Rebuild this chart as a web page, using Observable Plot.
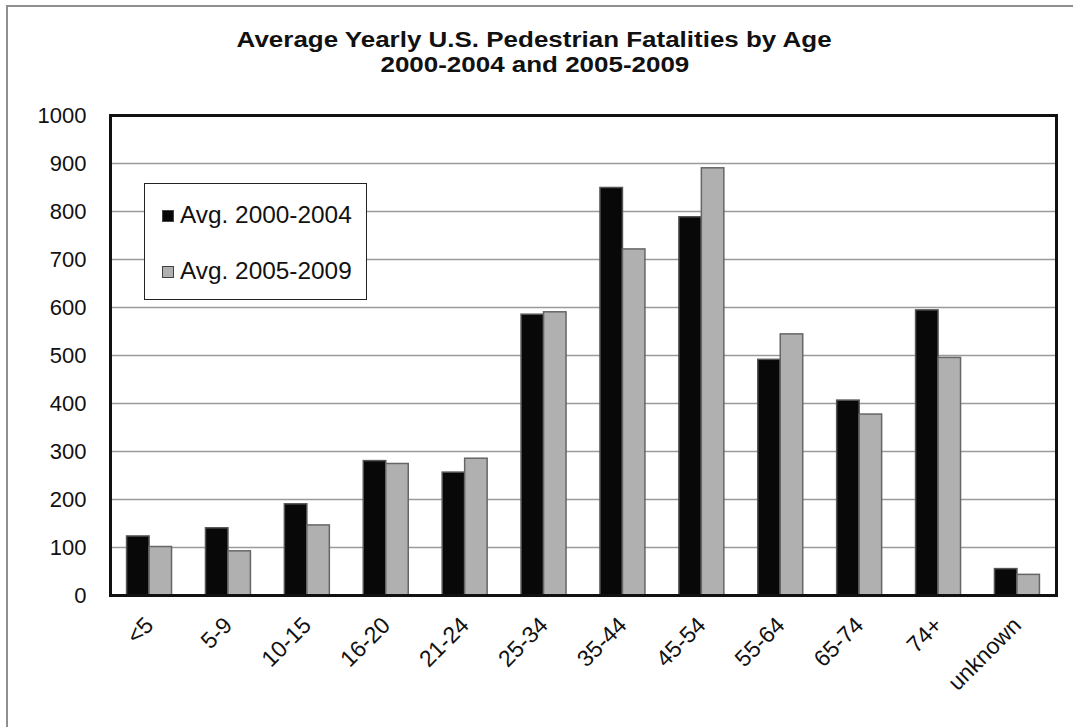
<!DOCTYPE html>
<html><head><meta charset="utf-8">
<script src="https://cdn.jsdelivr.net/npm/d3@7"></script>
<script src="https://cdn.jsdelivr.net/npm/@observablehq/plot@0.6"></script>
<style>
body{margin:0;background:#fff;font-family:"Liberation Sans",Arial,sans-serif;}
#wrap{position:relative;width:1073px;height:727px;overflow:hidden;background:#fff;}
#border{position:absolute;left:6px;top:5px;width:1200px;height:900px;border-left:2px solid #8f8f8f;border-top:2px solid #8f8f8f;z-index:5;pointer-events:none;}
#title{position:absolute;left:-2px;top:27px;width:1073px;text-align:center;font-weight:bold;font-size:22px;line-height:25px;color:#111;}
#title span{display:inline-block;transform:scaleX(1.18);}
#chart{position:absolute;left:0;top:100px;}
#legend{position:absolute;left:144px;top:183px;width:221px;height:115px;border:1px solid #222;background:#fff;}
.item{position:absolute;left:17px;font-size:23px;line-height:26px;color:#111;white-space:nowrap;}
.item span{display:inline-block;transform:scaleX(1.06);transform-origin:left center;}
.item i{display:inline-block;width:10px;height:10px;border:1px solid #444;margin-right:6px;vertical-align:1px;}
</style></head>
<body>
<div id="wrap">
  <div id="title"><span>Average Yearly U.S. Pedestrian Fatalities by Age</span><br><span>2000-2004 and 2005-2009</span></div>
  <div id="chart"></div>
  <div id="legend">
    <div class="item" style="top:18px"><i style="background:#080808"></i><span>Avg. 2000-2004</span></div>
    <div class="item" style="top:74px"><i style="background:#b0b0b0"></i><span>Avg. 2005-2009</span></div>
  </div>
  <div id="border"></div>
</div>
<script>
const ages = ["<5","5-9","10-15","16-20","21-24","25-34","35-44","45-54","55-64","65-74","74+","unknown"];
const avg2000_2004 = [123,140,190,280,256,585,849,788,491,406,594,55];
const avg2005_2009 = [101,92,146,274,285,590,721,890,544,377,495,43];
const yTicks = [0,100,200,300,400,500,600,700,800,900,1000];

const rows = ages.map((age,i)=>({age, a: avg2000_2004[i], b: avg2005_2009[i]}));

const W = 1073, H = 627, mL = 110, mR = 17, mT = 15, mB = 132;
const pIn = 0.43, pOut = 0.21;
const step = (W - mL - mR) / (ages.length - pIn + 2*pOut);
const half = step*(1-pIn)/2;

const chart = Plot.plot({
  width: W, height: H,
  marginLeft: mL, marginRight: mR, marginTop: mT, marginBottom: mB,
  style: {fontFamily: '"Liberation Sans", Arial, sans-serif', color: "#111", background: "transparent", overflow: "visible"},
  x: {domain: ages, paddingInner: pIn, paddingOuter: pOut, round: false, label: null},
  y: {domain: [0,1000], label: null},
  marks: [
    Plot.gridY(yTicks, {stroke: "#9a9a9a", strokeOpacity: 1, strokeWidth: 1.5}),
    Plot.barY(rows, {x: "age", y: "a", fill: "#080808", stroke: "#555", strokeWidth: 1.5, insetRight: half}),
    Plot.barY(rows, {x: "age", y: "b", fill: "#b0b0b0", stroke: "#666", strokeWidth: 1.5, insetLeft: half}),
    Plot.frame({stroke: "#111", strokeWidth: 3}),
    Plot.axisY(yTicks, {tickSize: 0, tickPadding: 24, fontSize: 22, tickFormat: d => String(d), fill: "#111"}),
    Plot.axisX({tickSize: 0, tickRotate: -45, tickPadding: 26, fontSize: 23, fill: "#111"})
  ]
});
document.getElementById("chart").appendChild(chart);
</script>
</body></html>
